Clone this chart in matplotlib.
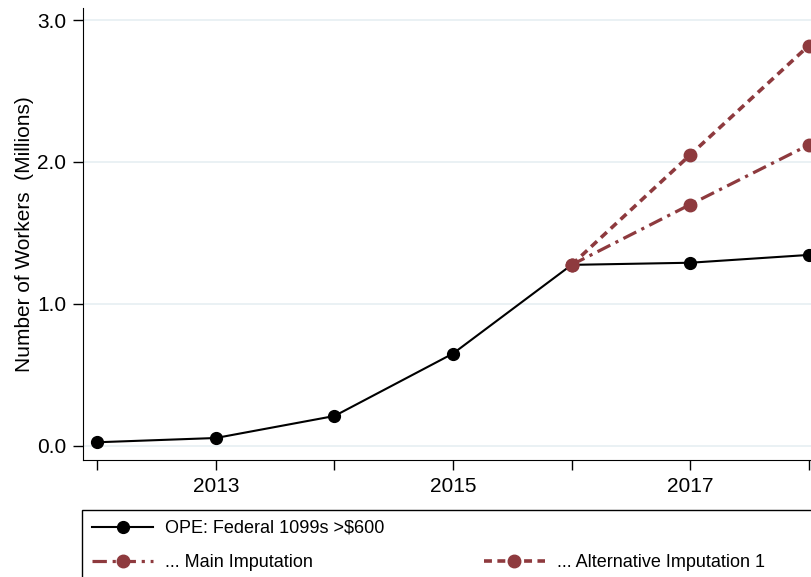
import matplotlib.pyplot as plt
from matplotlib.lines import Line2D
from matplotlib.patches import Rectangle

plt.rcParams['font.family'] = ['Liberation Sans', 'DejaVu Sans']

years = [2012, 2013, 2014, 2015, 2016, 2017, 2018]
ope = [0.025, 0.055, 0.21, 0.65, 1.275, 1.29, 1.345]

imp_years = [2016, 2017, 2018]
main_imp = [1.275, 1.70, 2.12]
alt_imp1 = [1.275, 2.05, 2.82]

red = '#8E3A3E'

fig = plt.figure(figsize=(8.12, 5.77), dpi=100)
W, H = 812, 577
# axes runs off the right edge like the cropped original
ax = fig.add_axes([83 / W, 1 - 460 / H, (823 - 83) / W, (460 - 8) / H])

ax.plot(years, ope, color='black', lw=1.5, marker='o', ms=8.5,
        label='OPE: Federal 1099s >$600', zorder=3)
ax.plot(imp_years, main_imp, color=red, lw=2.3, dashes=(4.5, 1.8, 1, 1.8),
        marker='o', ms=9, label='... Main Imputation', zorder=4)
ax.plot(imp_years, alt_imp1, color=red, lw=2.6, dashes=(2.2, 1.5),
        marker='o', ms=9, label='... Alternative Imputation 1', zorder=4)

ax.set_xlim(2011.88, 2018.12)
ax.set_ylim(-0.1, 3.085)
ax.set_xticks(years)
ax.set_xticklabels(['' if y % 2 == 0 else str(y) for y in years])
ax.set_yticks([0, 1, 2, 3])
ax.set_yticklabels(['0.0', '1.0', '2.0', '3.0'])
ax.tick_params(labelsize=15, length=7, width=1, pad=5)
ax.grid(axis='y', color='#e6eff2', lw=1.2)
ax.set_axisbelow(True)
for s in ['top', 'right']:
    ax.spines[s].set_visible(False)
ax.set_ylabel('Number of Workers  (Millions)', fontsize=15, labelpad=2)

# legend box is cut off by the right and bottom edges in the original
fig.patches.append(Rectangle((82 / W, -0.05), 1, 1 - 510 / H + 0.05,
                             transform=fig.transFigure, fill=False,
                             edgecolor='black', lw=1))

h = ax.get_legend_handles_labels()[0]
blank = Line2D([], [], color='none')
fig.legend([h[0], h[1], blank, h[2]],
           ['OPE: Federal 1099s >$600', '... Main Imputation', '',
            '... Alternative Imputation 1'],
           ncol=2, loc='upper left', bbox_to_anchor=(82 / W, 1 - 510 / H),
           fontsize=13, frameon=False,
           handlelength=3.4, handletextpad=0.65, columnspacing=5.5,
           labelspacing=0.95, borderpad=0.55, borderaxespad=0)

fig.savefig('out.png', dpi=100)
